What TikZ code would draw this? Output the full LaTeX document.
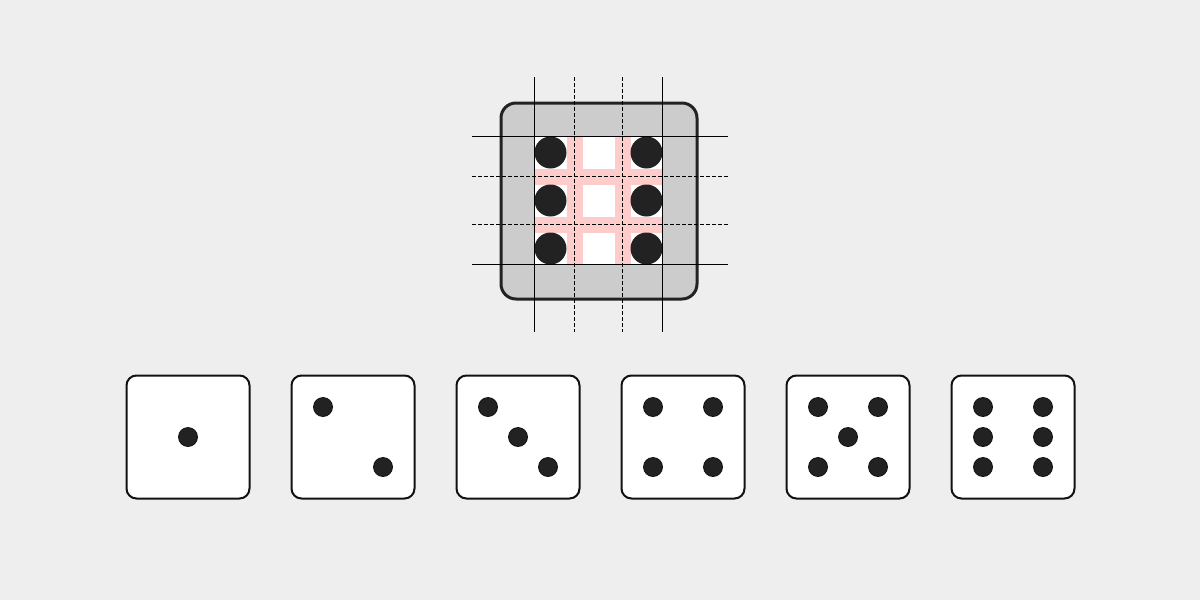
\documentclass[tikz,border=0pt]{standalone}
\usepackage{tikz}

\definecolor{fond}{HTML}{EEEEEE}
\definecolor{gris}{HTML}{CCCCCC}
\definecolor{rose}{HTML}{FFCCCC}
\definecolor{encre}{HTML}{222222}
\definecolor{trait}{HTML}{111111}

\tikzset{
    de/.style={rectangle, draw=trait, fill=white, line width=1pt, rounded corners=5pt,
        minimum size=61.5pt, inner sep=0pt},
    point/.style={circle, draw=trait, fill=encre, line width=0.4pt, minimum size=9.5pt, inner sep=0pt},
    grospoint/.style={circle, fill=encre, minimum size=16pt, inner sep=0pt},
    repere/.style={black, line width=0.5pt},
    reperetirets/.style={black, line width=0.5pt, dash pattern=on 2pt off 1pt}
}

\begin{document}
\begin{tikzpicture}[x=0.5pt, y=-0.5pt]

            % Fond
            \fill[fond] (0,0) rectangle (1200,600);
            \useasboundingbox (0,0) rectangle (1200,600);

            % Grand dé
            \node[rectangle, draw=encre, fill=gris, line width=1.5pt, rounded corners=7.5pt,
                minimum size=98pt, inner sep=0pt] (grandde) at (599,201) {};
            \fill[rose] (534.5,136.5) rectangle (662.5,264.5);

            % Cases blanches de la grille
            \foreach \i in {0,1,2} {
                \foreach \j in {0,1,2} {
                    \fill[white] (534.5+\i*48,136.5+\j*48) rectangle ++(32,32);
                }
            }

            % Points du grand dé
            \foreach \i in {0,2} {
                \foreach \j in {0,1,2} {
                    \node[grospoint] (g\i\j) at (550.5+\i*48,152.5+\j*48) {};
                }
            }

            % Lignes de repère
            \foreach \x/\s in {534.5/repere, 574.5/reperetirets, 622.5/reperetirets, 662.5/repere} {
                \draw[\s] (\x,77) -- (\x,332);
            }
            \foreach \y/\s in {136.5/repere, 176.5/reperetirets, 224.5/reperetirets, 264.5/repere} {
                \draw[\s] (472,\y) -- (728,\y);
            }

            % Les six dés
            \foreach \n/\pips in {1/{0/0}, 2/{-1/-1,1/1}, 3/{-1/-1,0/0,1/1},
                4/{-1/-1,1/-1,-1/1,1/1}, 5/{-1/-1,1/-1,0/0,-1/1,1/1},
                6/{-1/-1,-1/0,-1/1,1/-1,1/0,1/1}} {
                \node[de] (de\n) at (188+165*\n-165,437) {};
                \foreach \dx/\dy [count=\k] in \pips {
                    \node[point] (p\n\k) at (188+165*\n-165+\dx*30,437+\dy*30) {};
                }
            }

\end{tikzpicture}
\end{document}
